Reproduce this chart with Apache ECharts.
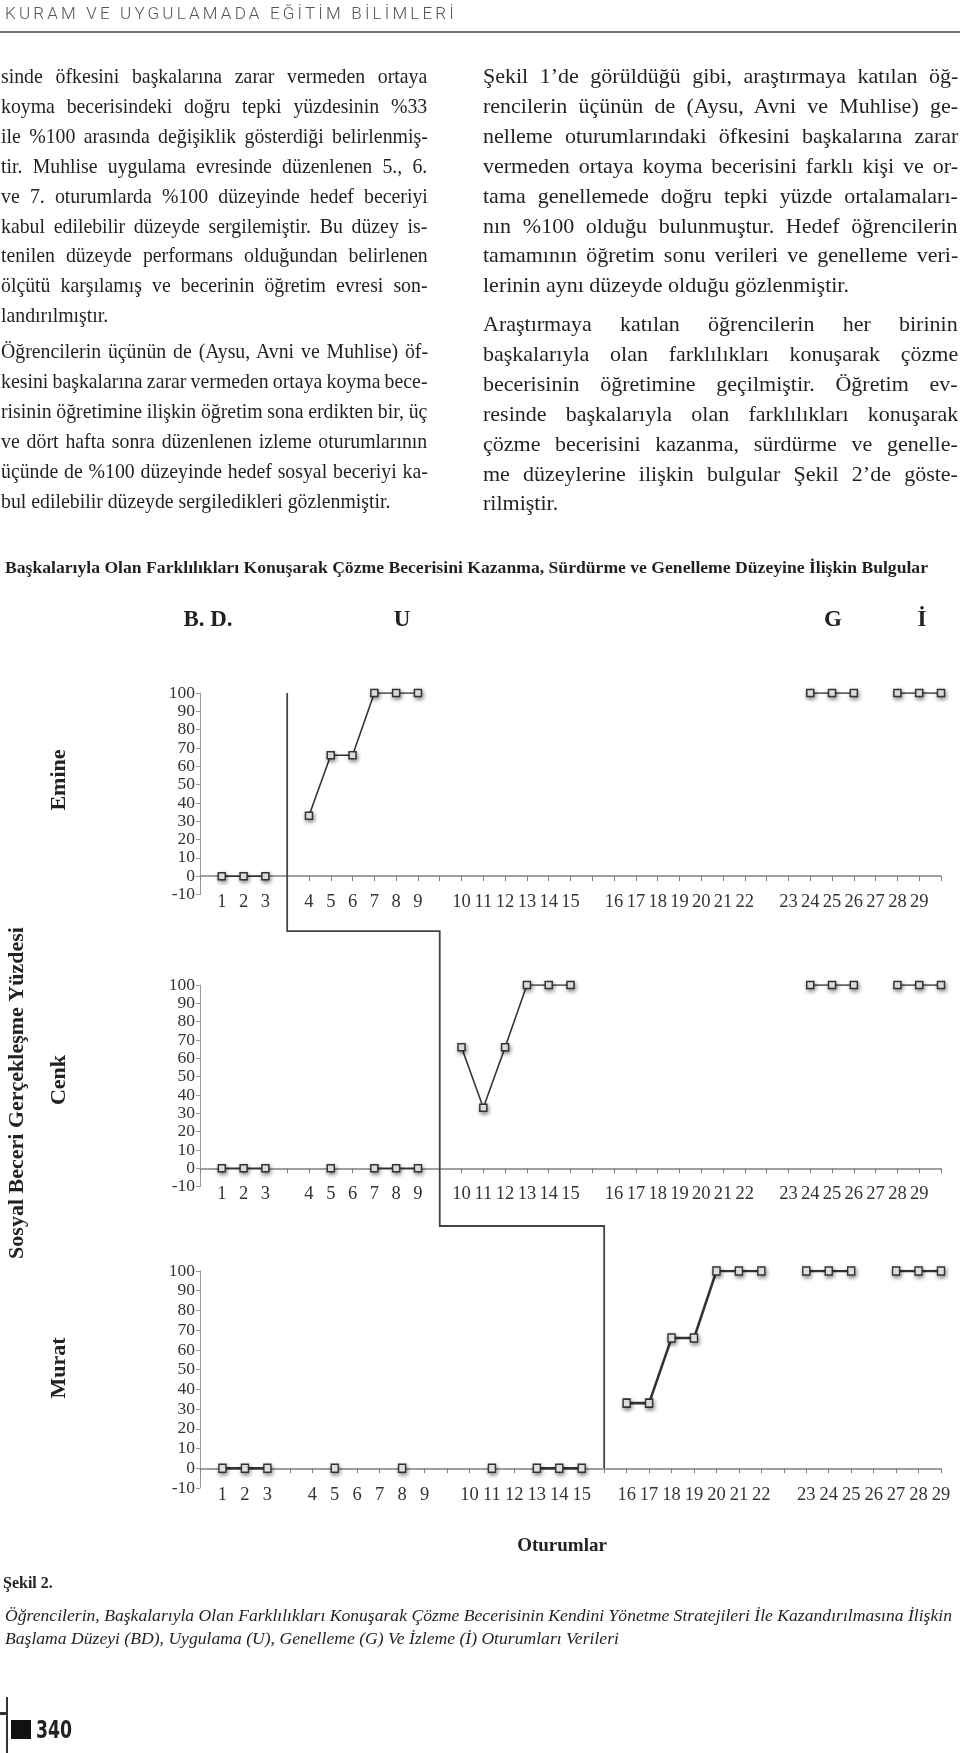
<!DOCTYPE html>
<html><head><meta charset="utf-8">
<script src="https://cdn.jsdelivr.net/npm/echarts@6/dist/echarts.min.js"></script>
<style>
html,body{margin:0;padding:0;background:#fff;}
body{width:960px;height:1753px;position:relative;overflow:hidden;font-family:"Liberation Serif",serif;color:#231f20;}
#chart{position:absolute;left:0;top:0;width:960px;height:1753px;}
.col{position:absolute;transform-origin:0 0;}
.ln{position:absolute;left:0;white-space:nowrap;font-size:22px;line-height:30px;height:30px;}
.ln span{display:inline-block;white-space:nowrap;transform-origin:0 50%;}
#hdr{position:absolute;left:5px;top:3px;font-family:Roboto,"Open Sans",sans-serif;font-weight:300;font-size:17px;color:#555;white-space:nowrap;}
#rule{position:absolute;left:0;top:31px;width:960px;height:2px;background:#777;}
#title{position:absolute;left:5px;top:557px;font-weight:bold;font-size:16px;line-height:22px;white-space:nowrap;transform-origin:0 50%;}
#sekil{position:absolute;left:3px;top:1572px;font-weight:bold;font-size:16px;line-height:22px;}
.cap{position:absolute;left:5px;font-style:italic;font-size:17px;line-height:22px;white-space:nowrap;transform-origin:0 50%;}
#pnum{position:absolute;left:36px;top:1717px;font-family:"DejaVu Sans",sans-serif;font-weight:bold;font-size:24px;line-height:26px;transform-origin:0 50%;transform:scaleX(0.72);color:#222;}
#sq{position:absolute;left:11px;top:1720px;width:20px;height:19px;background:#111;}
#vl{position:absolute;left:6px;top:1697px;width:2px;height:56px;background:#333;}
#tk{position:absolute;left:0;top:1712px;width:8px;height:3px;background:#333;}
</style></head>
<body>
<div id="chart"></div>
<div id="hdr">KURAM VE UYGULAMADA EĞİTİM BİLİMLERİ</div>
<div id="rule"></div>
<div id="leftCol" class="col" style="left:1px;top:0;transform:scaleX(0.9)"></div>
<div id="rightCol" class="col" style="left:483px;top:0"></div>
<div id="title">Başkalarıyla Olan Farklılıkları Konuşarak Çözme Becerisini Kazanma, Sürdürme ve Genelleme Düzeyine İlişkin Bulgular</div>
<div id="sekil">Şekil 2.</div>
<div class="cap" id="cap1" style="top:1605px">Öğrencilerin, Başkalarıyla Olan Farklılıkları Konuşarak Çözme Becerisinin Kendini Yönetme Stratejileri İle Kazandırılmasına İlişkin</div>
<div class="cap" id="cap2" style="top:1628px">Başlama Düzeyi (BD), Uygulama (U), Genelleme (G) Ve İzleme (İ) Oturumları Verileri</div>
<div id="vl"></div><div id="tk"></div><div id="sq"></div>
<div id="pnum">340</div>
<script>
// ---------- DATA ----------
const emineCats = ['', '1','2','3','', '4','5','6','7','8','9','', '10','11','12','13','14','15','', '16','17','18','19','20','21','22','', '23','24','25','26','27','28','29',''];
const cenkCats  = ['', '1','2','3','', '4','5','6','7','8','9','', '10','11','12','13','14','15','', '16','17','18','19','20','21','22','', '23','24','25','26','27','28','29',''];
const muratCats = ['', '1','2','3','', '4','5','6','7','8','9','', '10','11','12','13','14','15','', '16','17','18','19','20','21','22','', '23','24','25','26','27','28','29'];

const emineValues = [null, 0,0,0, null, 33,66,66,100,100,100, null, null,null,null,null,null,null, null, null,null,null,null,null,null,null, null, null,100,100,100,null,100,100,100];
const cenkValues  = [null, 0,0,0, null, null,0,null,0,0,0, null, 66,33,66,100,100,100, null, null,null,null,null,null,null,null, null, null,100,100,100,null,100,100,100];
const muratValues = [null, 0,0,0, null, null,0,null,null,0,null, null, null,0,null,0,0,0, null, 33,33,66,66,100,100,100, null, 100,100,100,null,100,100,100];

const yTicks = [-10, 0, 10, 20, 30, 40, 50, 60, 70, 80, 90, 100];
const phaseLabels = ['B. D.', 'U', 'G', 'İ'];
const students = ['Emine', 'Cenk', 'Murat'];
const phaseChangeSlot = [4, 11, 18];
const yTitle = 'Sosyal Beceri Gerçekleşme Yüzdesi';
const xTitle = 'Oturumlar';

// ---------- TEXT ----------
const leftP1 = ['sinde öfkesini başkalarına zarar vermeden ortaya','koyma becerisindeki doğru tepki yüzdesinin %33','ile %100 arasında değişiklik gösterdiği belirlenmiş-','tir. Muhlise uygulama evresinde düzenlenen 5., 6.','ve 7. oturumlarda %100 düzeyinde hedef beceriyi','kabul edilebilir düzeyde sergilemiştir. Bu düzey is-','tenilen düzeyde performans olduğundan belirlenen','ölçütü karşılamış ve becerinin öğretim evresi son-','landırılmıştır.'];
const leftP2 = ['Öğrencilerin üçünün de (Aysu, Avni ve Muhlise) öf-','kesini başkalarına zarar vermeden ortaya koyma bece-','risinin öğretimine ilişkin öğretim sona erdikten bir, üç','ve dört hafta sonra düzenlenen izleme oturumlarının','üçünde de %100 düzeyinde hedef sosyal beceriyi ka-','bul edilebilir düzeyde sergiledikleri gözlenmiştir.'];
const rightP1 = ['Şekil 1’de görüldüğü gibi, araştırmaya katılan öğ-','rencilerin üçünün de (Aysu, Avni ve Muhlise) ge-','nelleme oturumlarındaki öfkesini başkalarına zarar','vermeden ortaya koyma becerisini farklı kişi ve or-','tama genellemede doğru tepki yüzde ortalamaları-','nın %100 olduğu bulunmuştur. Hedef öğrencilerin','tamamının öğretim sonu verileri ve genelleme veri-','lerinin aynı düzeyde olduğu gözlenmiştir.'];
const rightP2 = ['Araştırmaya katılan öğrencilerin her birinin','başkalarıyla olan farklılıkları konuşarak çözme','becerisinin öğretimine geçilmiştir. Öğretim ev-','resinde başkalarıyla olan farklılıkları konuşarak','çözme becerisini kazanma, sürdürme ve genelle-','me düzeylerine ilişkin bulgular Şekil 2’de göste-','rilmiştir.'];

function addPara(box, lines, top, width){
  lines.forEach((t, i) => {
    const d = document.createElement('div');
    d.className = 'ln';
    d.style.top = (top + i * 29.9) + 'px';
    const s = document.createElement('span');
    s.textContent = t;
    d.appendChild(s);
    box.appendChild(d);
    const last = i === lines.length - 1;
    const w = s.offsetWidth;
    if (!last) {
      const spaces = (t.match(/ /g) || []).length;
      let ws = spaces ? (width - w) / spaces : 0;
      if (ws < -3) ws = -3;
      s.style.wordSpacing = ws + 'px';
      const w2 = s.offsetWidth;
      if (w2 > width + 0.5) s.style.transform = 'scaleX(' + (width / w2) + ')';
    } else if (w > width) {
      s.style.transform = 'scaleX(' + (width / w) + ')';
    }
  });
}
const L = document.getElementById('leftCol'), R = document.getElementById('rightCol');
addPara(L, leftP1, 61, 474);
addPara(L, leftP2, 336, 474);
addPara(R, rightP1, 61, 475);
addPara(R, rightP2, 309, 475);

function fitScale(el, target){
  const w = el.getBoundingClientRect().width;
  const k = target / w;
  el.style.transform = 'scaleX(' + k + ')';
  return k;
}
function fitLetter(el, target){
  const w = el.getBoundingClientRect().width;
  const n = el.textContent.length;
  el.style.letterSpacing = ((target - w) / n) + 'px';
}
fitLetter(document.getElementById('hdr'), 452);
fitScale(document.getElementById('title'), 923);
const k = fitScale(document.getElementById('cap1'), 947);
document.getElementById('cap2').style.transform = 'scaleX(' + k + ')';

// ---------- CHART ----------
const chart = echarts.init(document.getElementById('chart'), null, {renderer: 'canvas'});
const serif = 'Liberation Serif';
const ink = '#222';

const grids = [
  {left: 200, width: 741, top: 693, height: 201.5},
  {left: 200, width: 741, top: 985, height: 201.6},
  {left: 200, width: 741, top: 1271, height: 217}
];
const catsList = [emineCats, cenkCats, muratCats];
const valsList = [emineValues, cenkValues, muratValues];

function xAxis(i){
  return {
    type: 'category', gridIndex: i, data: catsList[i], boundaryGap: false,
    axisLine: {onZero: true, lineStyle: {color: '#808080', width: 1.5}},
    axisTick: {show: true, interval: 0, length: 5, lineStyle: {color: '#808080', width: 1}},
    axisLabel: {interval: 0, margin: -2, fontFamily: serif, fontSize: 18.5, color: '#333'},
    splitLine: {show: false}
  };
}
function yAxis(i){
  return {
    type: 'value', gridIndex: i, min: yTicks[0], max: yTicks[yTicks.length - 1], interval: 10,
    axisLine: {show: true, onZero: false, lineStyle: {color: '#999', width: 1}},
    axisTick: {show: true, length: 4, lineStyle: {color: '#999'}},
    axisLabel: {margin: 5, fontFamily: serif, fontSize: 17.5, lineHeight: 14, color: '#333',
      showMinLabel: true, showMaxLabel: true, hideOverlap: false},
    splitLine: {show: false}
  };
}
function series(i){
  return {
    type: 'line', xAxisIndex: i, yAxisIndex: i, data: valsList[i],
    connectNulls: false, showAllSymbol: true, symbol: 'rect', symbolSize: i === 2 ? [7, 8] : 7,
    lineStyle: {color: '#333', width: i === 2 ? 2.6 : 1.6},
    itemStyle: {color: '#fff', borderColor: '#333', borderWidth: 1.5,
      shadowBlur: 4, shadowColor: 'rgba(0,0,0,0.45)', shadowOffsetX: 1, shadowOffsetY: 2},
    emphasis: {disabled: true}, z: 3
  };
}

function txt(id, text, x, y, size, rot){
  return {type: 'text', id: id, x: x, y: y, rotation: rot || 0, z: 10,
    style: {text: text, fontFamily: serif, fontWeight: 'bold', fontSize: size, fill: ink,
      textAlign: 'center', textVerticalAlign: 'middle'}};
}
const phaseX = [208, 402, 833, 922];
const graphics = phaseLabels.map((p, i) => txt('ph' + i, p, phaseX[i], 620, 23));
const nameY = [780, 1080, 1368];
students.forEach((s, i) => graphics.push(txt('st' + i, s, 59, nameY[i], 22, Math.PI / 2)));
graphics.push(txt('yt', yTitle, 17.5, 1093, 22, Math.PI / 2));
graphics.push(txt('xt', xTitle, 562, 1546, 19));

chart.setOption({
  animation: false,
  backgroundColor: 'transparent',
  grid: grids,
  xAxis: [0, 1, 2].map(xAxis),
  yAxis: [0, 1, 2].map(yAxis),
  series: [0, 1, 2].map(series),
  graphic: graphics
});

// phase change line drawn through the axes' own scales
const cp = (g, v) => chart.convertToPixel({gridIndex: g}, v);
const a = cp(0, [phaseChangeSlot[0], 100]);
const b1 = cp(0, [phaseChangeSlot[0], -30]);
const c = cp(1, [phaseChangeSlot[1], -31.5]);
const d = cp(2, [phaseChangeSlot[2], 0]);
const pts = [a, [a[0], b1[1]], [cp(1, [phaseChangeSlot[1], 0])[0], b1[1]], [c[0], c[1]], [d[0], c[1]], d];
chart.setOption({graphic: [{type: 'polyline', id: 'phase', z: 5, shape: {points: pts},
  style: {stroke: '#444', lineWidth: 1.8, fill: null}}]});
</script>
</body></html>
